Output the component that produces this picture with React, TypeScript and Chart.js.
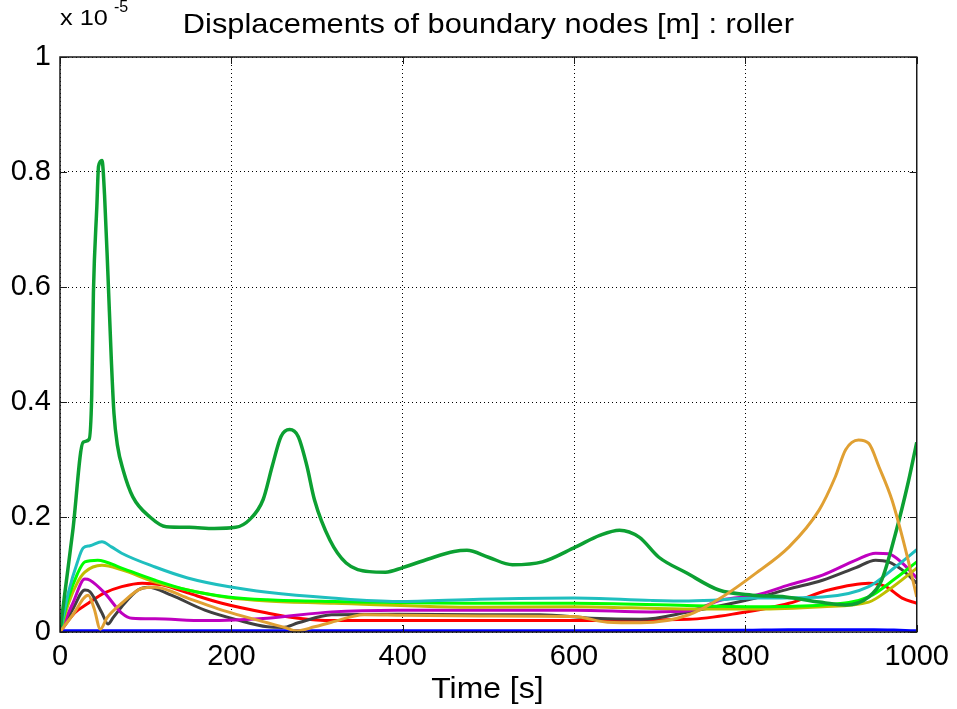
import React, { useEffect, useRef } from "react";
import { Chart, registerables } from "chart.js";

Chart.register(...registerables);

// Time axis ticks and value ticks (values in units of 1e-5 m)
const xTicks = [0, 200, 400, 600, 800, 1000];
const yTicks = [0, 0.2, 0.4, 0.6, 0.8, 1];

const tDarkGreen = [0, 5, 15, 27, 34, 37, 39, 43, 45, 49, 52, 56, 60, 63, 67, 74, 85, 105, 124, 151, 180, 205, 221, 237, 248, 258, 268, 278, 288, 297, 315, 334, 361, 380, 400, 430, 460, 475, 500, 528, 563, 602, 630, 653, 676, 699, 731, 769, 808, 847, 886, 917, 944, 959, 975, 990, 1000];
const vDarkGreen = [0, 0.06, 0.177, 0.33, 0.335, 0.41, 0.59, 0.74, 0.81, 0.82, 0.76, 0.62, 0.47, 0.38, 0.325, 0.28, 0.235, 0.2, 0.183, 0.182, 0.18, 0.182, 0.195, 0.23, 0.29, 0.34, 0.352, 0.34, 0.29, 0.23, 0.16, 0.12, 0.105, 0.104, 0.112, 0.127, 0.14, 0.142, 0.13, 0.117, 0.122, 0.148, 0.168, 0.177, 0.165, 0.13, 0.103, 0.073, 0.064, 0.061, 0.052, 0.047, 0.061, 0.09, 0.17, 0.26, 0.33];

const tCyan = [0, 10, 20, 27, 35, 49, 60, 72, 111, 149, 196, 242, 317, 394, 490, 600, 690, 734, 812, 890, 944, 975, 1000];
const vCyan = [0, 0.07, 0.12, 0.146, 0.15, 0.157, 0.148, 0.137, 0.113, 0.094, 0.079, 0.069, 0.059, 0.053, 0.057, 0.059, 0.055, 0.054, 0.059, 0.061, 0.079, 0.113, 0.143];

const tLime = [0, 10, 20, 29, 44, 72, 111, 149, 196, 242, 320, 490, 600, 732, 812, 890, 944, 975, 1000];
const vLime = [0, 0.06, 0.1, 0.122, 0.125, 0.111, 0.09, 0.073, 0.061, 0.056, 0.053, 0.05, 0.05, 0.046, 0.044, 0.047, 0.061, 0.093, 0.122];

const tOlive = [0, 10, 20, 29, 49, 72, 111, 149, 196, 242, 320, 490, 600, 734, 812, 890, 944, 967, 1000];
const vOlive = [0, 0.05, 0.085, 0.104, 0.116, 0.108, 0.087, 0.073, 0.06, 0.054, 0.05, 0.043, 0.044, 0.04, 0.04, 0.044, 0.052, 0.073, 0.111];

const tMagenta = [0, 15, 29, 35, 52, 72, 84, 111, 169, 242, 317, 394, 490, 600, 690, 734, 773, 812, 851, 890, 929, 952, 967, 983, 1000];
const vMagenta = [0, 0.05, 0.092, 0.09, 0.068, 0.033, 0.024, 0.023, 0.02, 0.024, 0.035, 0.038, 0.038, 0.038, 0.035, 0.037, 0.056, 0.064, 0.082, 0.099, 0.125, 0.137, 0.136, 0.12, 0.094];

const tGray = [0, 15, 29, 35, 49, 56, 62, 72, 91, 103, 130, 169, 207, 242, 260, 278, 317, 394, 490, 560, 620, 678, 734, 812, 851, 890, 929, 952, 967, 983, 1000];
const vGray = [0, 0.04, 0.073, 0.07, 0.033, 0.014, 0.025, 0.044, 0.073, 0.078, 0.064, 0.038, 0.021, 0.009, 0.008, 0.016, 0.03, 0.031, 0.03, 0.03, 0.024, 0.022, 0.035, 0.059, 0.075, 0.09, 0.112, 0.125, 0.122, 0.108, 0.085];

const tRed = [0, 17, 33, 52, 72, 96, 119, 149, 189, 242, 278, 317, 400, 600, 734, 793, 851, 897, 944, 964, 983, 1000];
const vRed = [0, 0.033, 0.05, 0.068, 0.079, 0.085, 0.082, 0.068, 0.05, 0.033, 0.024, 0.02, 0.02, 0.02, 0.022, 0.033, 0.05, 0.073, 0.085, 0.079, 0.059, 0.05];

const tOrange = [0, 15, 33, 40, 47, 55, 72, 96, 111, 149, 189, 242, 262, 276, 297, 317, 355, 400, 490, 600, 639, 678, 734, 773, 812, 851, 886, 905, 917, 932, 944, 956, 971, 987, 1000];
const vOrange = [0, 0.03, 0.064, 0.04, 0.005, 0.025, 0.05, 0.076, 0.078, 0.059, 0.038, 0.016, 0.008, 0.002, 0.009, 0.017, 0.03, 0.029, 0.028, 0.027, 0.017, 0.016, 0.03, 0.061, 0.102, 0.148, 0.212, 0.27, 0.317, 0.334, 0.328, 0.287, 0.23, 0.143, 0.061];

const tBlue = [0, 200, 400, 600, 800, 850, 950, 980, 1000];
const vBlue = [0.002, 0.002, 0.002, 0.002, 0.003, 0.004, 0.004, 0.003, 0.002];

const FONT = '"Liberation Sans", Arial, Helvetica, sans-serif';

const pts = (t: number[], v: number[]) => t.map((x, i) => ({ x, y: v[i] }));

const framePlugin = {
  id: "matlabFrame",
  afterDraw(chart: any) {
    const { ctx, chartArea: ca, scales } = chart;
    ctx.save();
    ctx.strokeStyle = "#1a1a1a";
    ctx.lineWidth = 1.5;
    ctx.setLineDash([]);
    ctx.strokeRect(ca.left, ca.top, ca.right - ca.left, ca.bottom - ca.top);
    ctx.lineWidth = 1;
    const L = 7;
    xTicks.forEach((v) => {
      const px = Math.round(scales.x.getPixelForValue(v)) + 0.5;
      ctx.beginPath();
      ctx.moveTo(px, ca.bottom);
      ctx.lineTo(px, ca.bottom - L);
      ctx.moveTo(px, ca.top);
      ctx.lineTo(px, ca.top + L);
      ctx.stroke();
    });
    yTicks.forEach((v) => {
      const py = Math.round(scales.y.getPixelForValue(v)) + 0.5;
      ctx.beginPath();
      ctx.moveTo(ca.left, py);
      ctx.lineTo(ca.left + L, py);
      ctx.moveTo(ca.right, py);
      ctx.lineTo(ca.right - L, py);
      ctx.stroke();
    });
    ctx.fillStyle = "#000";
    const cx = (ca.left + ca.right) / 2;
    // title
    ctx.font = `28px ${FONT}`;
    ctx.textAlign = "center";
    ctx.textBaseline = "alphabetic";
    ctx.save();
    ctx.translate(cx, 33);
    ctx.scale(1.1, 1);
    ctx.fillText("Displacements of boundary nodes [m] : roller", 0, 0);
    ctx.restore();
    // x label
    ctx.save();
    ctx.translate(cx - 1, 698);
    ctx.scale(1.1, 1);
    ctx.font = `29px ${FONT}`;
    ctx.fillText("Time [s]", 0, 0);
    ctx.restore();
    // exponent
    ctx.textAlign = "left";
    ctx.save();
    ctx.translate(ca.left, 25);
    ctx.scale(1.15, 1);
    ctx.font = `22px ${FONT}`;
    ctx.fillText("x 10", 0, 0);
    ctx.restore();
    ctx.font = `16px ${FONT}`;
    ctx.fillText("-5", ca.left + 54, 12);
    ctx.restore();
  },
};

export default function App() {
  const ref = useRef<HTMLCanvasElement | null>(null);
  useEffect(() => {
    document.body.style.margin = "0";
    const canvas = ref.current;
    if (!canvas) return;
    const mk = (label: string, t: number[], v: number[], color: string, w = 3) => ({
      label,
      data: pts(t, v),
      borderColor: color,
      backgroundColor: color,
      borderWidth: w,
      pointRadius: 0,
      fill: false,
      cubicInterpolationMode: "monotone" as const,
    });
    const chart = new Chart(canvas, {
      type: "line",
      data: {
        datasets: [
          mk("node 9", tOrange, vOrange, "#e0a033"),
          mk("node 1", tDarkGreen, vDarkGreen, "#0ca032", 3.5),
          mk("node 2", tCyan, vCyan, "#1fbfbf"),
          mk("node 3", tLime, vLime, "#00ff00"),
          mk("node 4", tOlive, vOlive, "#bfbf00"),
          mk("node 5", tMagenta, vMagenta, "#bf00bf"),
          mk("node 6", tGray, vGray, "#404040"),
          mk("node 7", tRed, vRed, "#ff0000"),
          mk("node 8", tBlue, vBlue, "#0000ff", 3),
        ],
      },
      plugins: [framePlugin],
      options: {
        animation: false,
        responsive: false,
        devicePixelRatio: 1,
        layout: { padding: { left: 0, right: 37, top: 57, bottom: 0 } },
        plugins: { legend: { display: false }, title: { display: false }, tooltip: { enabled: false } },
        scales: {
          x: {
            type: "linear",
            min: 0,
            max: 1000,
            afterBuildTicks: (s: any) => {
              s.ticks = xTicks.map((value) => ({ value }));
            },
            afterFit: (s: any) => {
              s.height = 77;
            },
            ticks: {
              font: { family: FONT, size: 29 },
              color: "#000",
              padding: 8,
              maxRotation: 0,
              autoSkip: false,
              callback: (value: any) => String(value),
            },
            grid: { display: true, drawTicks: false, color: "#000", lineWidth: 1 },
            border: { display: false, dash: [1, 3] },
          },
          y: {
            type: "linear",
            min: 0,
            max: 1,
            afterBuildTicks: (s: any) => {
              s.ticks = yTicks.map((value) => ({ value }));
            },
            afterFit: (s: any) => {
              s.width = 60;
            },
            ticks: {
              font: { family: FONT, size: 29 },
              color: "#000",
              padding: 9,
              callback: (value: any) => String(value),
            },
            grid: { display: true, drawTicks: false, color: "#000", lineWidth: 1 },
            border: { display: false, dash: [1, 3] },
          },
        },
      },
    });
    return () => chart.destroy();
  }, []);
  return (
    <div style={{ width: 957, height: 709 }}>
      <canvas ref={ref} width={957} height={709} style={{ display: "block" }} />
    </div>
  );
}
